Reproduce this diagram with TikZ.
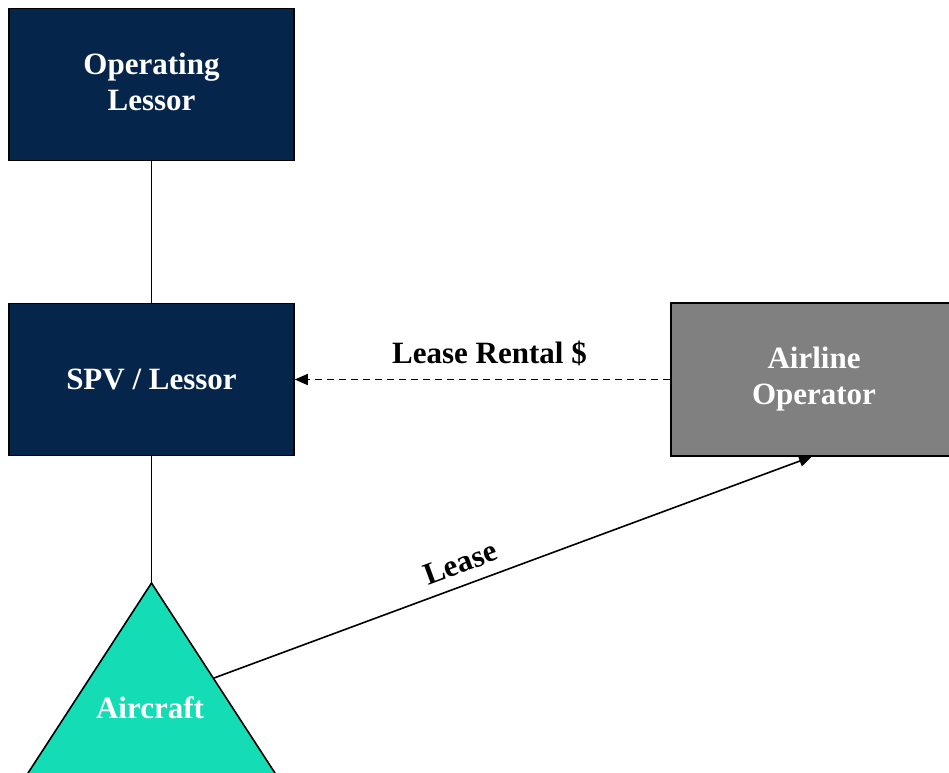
\documentclass[tikz,border=0pt]{standalone}
\usepackage{fontspec}
\setmainfont{Liberation Serif}
\usetikzlibrary{arrows.meta}
\definecolor{navy}{RGB}{6,37,74}
\definecolor{teal2}{RGB}{20,220,180}
\definecolor{boxgray}{RGB}{128,128,128}
\tikzset{
  lbl/.style={font=\fontsize{31}{36}\selectfont\bfseries, align=center},
  darkbox/.style={draw=black, line width=1.6pt, fill=navy, text=white, lbl,
                  rectangle, minimum width=285pt, minimum height=152pt, inner sep=0pt},
  graybox/.style={draw=black, line width=1.6pt, fill=boxgray, text=white, lbl,
                  rectangle, minimum width=286pt, minimum height=153pt, inner sep=0pt},
  conn/.style={draw=black, line width=1.6pt},
  tip/.style={-{Triangle[length=13pt,width=11pt]}}
}
\begin{document}
\begin{tikzpicture}[x=1pt,y=-1pt]
\useasboundingbox (0,0) rectangle (949,772);
\clip (0,0) rectangle (949,772);
\fill[white] (0,0) rectangle (949,772);

% triangle (Aircraft)
\coordinate (apex) at (151.5,583);
\coordinate (tl) at (10.5,800);
\coordinate (tr) at (292.5,800);
\filldraw[fill=teal2, draw=black, line width=1.6pt] (apex) -- (tr) -- (tl) -- cycle;
\node[lbl, text=white] (aircraft) at (150,708) {Aircraft};

% boxes
\node[darkbox] (opl) at (151.5,84.5) {};
\node[lbl, text=white] (opltext) at (151.5,82) {Operating\\Lessor};
\node[darkbox] (spv) at (151.5,379.5) {SPV / Lessor};
\node[graybox] (air) at (814,379.5) {Airline\\Operator};

% connectors
\draw[conn] (opl.south) -- (spv.north);
\draw[conn] (spv.south) -- (apex);
\draw[conn, tip, dash pattern=on 7pt off 5pt] (air.west) -- (spv.east)
  node[midway, above=10pt, xshift=7pt, lbl, text=black] (rent) {Lease Rental \$};
\coordinate (leasestart) at (214,678);
\coordinate (leasetip) at (812,456.5);
\draw[conn, tip] (leasestart) -- (leasetip)
  node[pos=0.425, sloped, above=8pt, lbl, text=black] (lease) {Lease};
\end{tikzpicture}
\end{document}
